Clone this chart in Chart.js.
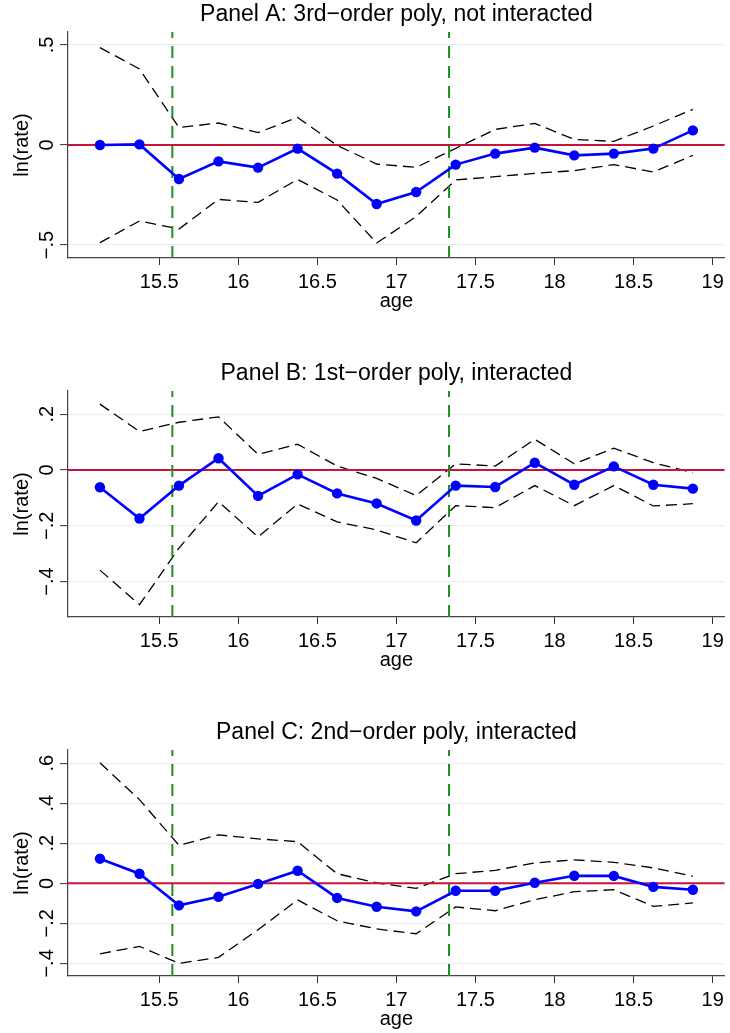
<!DOCTYPE html>
<html><head><meta charset="utf-8">
<script src="https://cdn.jsdelivr.net/npm/chart.js@4"></script>
<style>
html,body{margin:0;padding:0;background:#fff;}
.panel{position:absolute;left:0;width:730px;height:345px;}
</style></head>
<body>
<div class="panel" style="top:0px"><canvas id="cA"></canvas></div>
<div class="panel" style="top:359px"><canvas id="cB"></canvas></div>
<div class="panel" style="top:718px"><canvas id="cC"></canvas></div>
<script>
// ---- shared data ----
const ages = [15.125, 15.375, 15.625, 15.875, 16.125, 16.375, 16.625, 16.875,
              17.125, 17.375, 17.625, 17.875, 18.125, 18.375, 18.625, 18.875];
const cutoffs = [15.583, 17.333];
const xTicks = [15.5, 16, 16.5, 17, 17.5, 18, 18.5, 19];
const xRange = [14.923, 19.077];
const xTitle = 'age';
const yTitle = 'ln(rate)';

// ---- Panel A ----
const titleA = 'Panel A: 3rd\u2212order poly, not interacted';
const estA   = [0.000, 0.003, -0.170, -0.082, -0.113, -0.018, -0.143, -0.295,
                -0.235, -0.098, -0.043, -0.013, -0.052, -0.043, -0.018, 0.073];
const upperA = [0.487, 0.380, 0.087, 0.110, 0.062, 0.138, -0.002, -0.095,
                -0.112, -0.017, 0.078, 0.108, 0.028, 0.018, 0.095, 0.178];
const lowerA = [-0.488, -0.380, -0.420, -0.272, -0.287, -0.172, -0.275, -0.490,
                -0.358, -0.175, -0.158, -0.142, -0.128, -0.098, -0.135, -0.052];
const yTicksA = [-0.5, 0, 0.5];
const yRangeA = [-0.565, 0.565];

// ---- Panel B ----
const titleB = 'Panel B: 1st\u2212order poly, interacted';
const estB   = [-0.062, -0.174, -0.056, 0.042, -0.093, -0.016, -0.084, -0.120,
                -0.181, -0.056, -0.061, 0.026, -0.053, 0.013, -0.053, -0.067];
const upperB = [0.236, 0.138, 0.171, 0.190, 0.056, 0.092, 0.014, -0.030,
                -0.092, 0.022, 0.014, 0.110, 0.022, 0.078, 0.026, -0.010];
const lowerB = [-0.359, -0.483, -0.280, -0.114, -0.240, -0.122, -0.186, -0.215,
                -0.261, -0.128, -0.135, -0.056, -0.128, -0.056, -0.129, -0.121];
const yTicksB = [-0.4, -0.2, 0, 0.2];
const yRangeB = [-0.527, 0.283];

// ---- Panel C ----
const titleC = 'Panel C: 2nd\u2212order poly, interacted';
const estC   = [0.123, 0.048, -0.110, -0.067, -0.003, 0.063, -0.073, -0.117,
                -0.140, -0.037, -0.037, 0.003, 0.038, 0.037, -0.018, -0.032];
const upperC = [0.602, 0.418, 0.190, 0.242, 0.222, 0.208, 0.048, 0.002,
                -0.025, 0.048, 0.065, 0.102, 0.117, 0.105, 0.077, 0.035];
const lowerC = [-0.352, -0.315, -0.400, -0.370, -0.232, -0.083, -0.187, -0.228,
                -0.252, -0.118, -0.137, -0.082, -0.042, -0.032, -0.115, -0.098];
const yTicksC = [-0.4, -0.2, 0, 0.2, 0.4, 0.6];
const yRangeC = [-0.463, 0.666];

// ---- drawing ----
Chart.defaults.font.family = "'Liberation Sans', Arial, sans-serif";
Chart.defaults.color = '#000';

function stataNum(v) {
  if (Math.abs(v) < 1e-9) return '0';
  const s = Math.abs(v).toFixed(1).replace(/^0/, '');
  return (v < 0 ? '\u2212' : '') + s;
}
function pts(xs, ys) { return xs.map((x, i) => ({x: x, y: ys[i]})); }

function makePanel(id, title, est, upper, lower, yTicks, yRange) {
  const ciStyle = {borderColor: '#000', borderWidth: 1.3, borderDash: [11, 6],
                   pointRadius: 0, fill: false, tension: 0};
  const datasets = [
    {data: pts(ages, est), borderColor: '#0000ff', borderWidth: 2.6,
     pointRadius: 5.2, pointBackgroundColor: '#0000ff', pointBorderWidth: 0,
     pointHoverRadius: 5.2, fill: false, tension: 0},
  ];
  cutoffs.forEach(c => datasets.push({
    data: [{x: c, y: yRange[0]}, {x: c, y: yRange[1]}],
    borderColor: '#1e8c1e', borderWidth: 2, borderDash: [12, 8], pointRadius: 0, fill: false
  }));
  datasets.push({data: [{x: xRange[0], y: 0}, {x: xRange[1], y: 0}],
    borderColor: '#c8143c', borderWidth: 2, pointRadius: 0, fill: false});
  datasets.push(Object.assign({data: pts(ages, upper)}, ciStyle));
  datasets.push(Object.assign({data: pts(ages, lower)}, ciStyle));

  new Chart(document.getElementById(id), {
    type: 'line',
    data: {datasets: datasets},
    options: {
      responsive: true, maintainAspectRatio: false, animation: false,
      layout: {padding: {left: 0, right: 2, top: 0, bottom: 0}},
      plugins: {
        legend: {display: false}, tooltip: {enabled: false},
        title: {display: true, text: title, color: '#000', fullSize: false,
                font: {size: 23, weight: 'normal'}, padding: {top: 0.5, bottom: 3.9}}
      },
      scales: {
        x: {
          type: 'linear', min: xRange[0], max: xRange[1],
          afterBuildTicks: s => { s.ticks = xTicks.map(v => ({value: v})); },
          afterFit: s => { s.height = 87; },
          ticks: {font: {size: 20}, color: '#000', padding: 5, maxRotation: 0,
                  autoSkip: false, callback: v => String(v)},
          grid: {drawOnChartArea: false, tickColor: '#333', tickLength: 7, tickWidth: 1},
          border: {color: '#444', width: 1.2},
          title: {display: true, text: xTitle, color: '#000', font: {size: 20},
                  padding: {top: 0, bottom: 32}}
        },
        y: {
          type: 'linear', min: yRange[0], max: yRange[1],
          afterBuildTicks: s => { s.ticks = yTicks.map(v => ({value: v})); },
          afterFit: s => { s.width = 68; },
          ticks: {font: {size: 20}, color: '#000', minRotation: 90, maxRotation: 90,
                  crossAlign: 'center', padding: -2, callback: v => stataNum(v)},
          grid: {color: '#e8f0f1', lineWidth: 1.2, tickColor: '#333', tickLength: 8, tickWidth: 1},
          border: {color: '#444', width: 1.2},
          title: {display: true, text: yTitle, color: '#000', font: {size: 20},
                  padding: {top: 10, bottom: 0}}
        }
      }
    }
  });
}

makePanel('cA', titleA, estA, upperA, lowerA, yTicksA, yRangeA);
makePanel('cB', titleB, estB, upperB, lowerB, yTicksB, yRangeB);
makePanel('cC', titleC, estC, upperC, lowerC, yTicksC, yRangeC);
</script>
</body></html>
